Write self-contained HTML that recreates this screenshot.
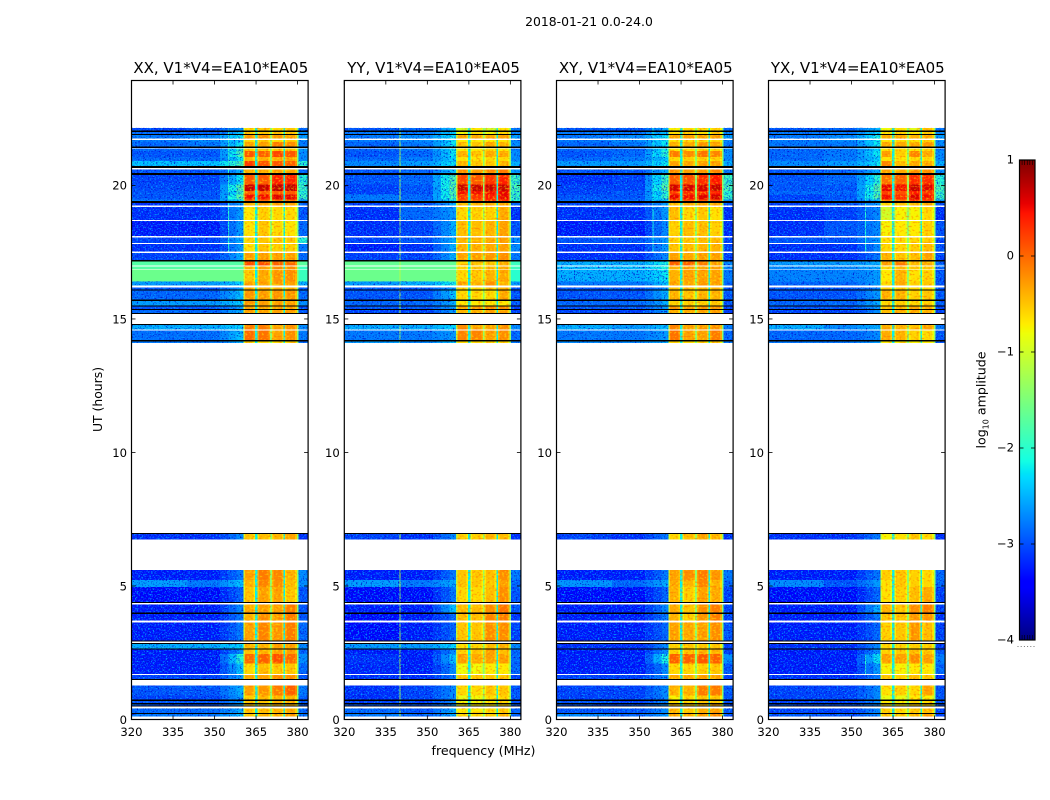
<!DOCTYPE html>
<html lang="en">
<head>
<meta charset="utf-8">
<title>2018-01-21 0.0-24.0</title>
<style>
html,body{margin:0;padding:0;background:#fff;}
svg{display:block;font-family:"DejaVu Sans","Liberation Sans",sans-serif;fill:#000;}
</style>
</head>
<body>
<svg id="figure" xmlns="http://www.w3.org/2000/svg" width="1050" height="800" viewBox="0 0 1050 800">
<defs>
<filter id="speckle" filterUnits="userSpaceOnUse" x="0" y="0" width="1050" height="800" color-interpolation-filters="sRGB">
<feTurbulence type="fractalNoise" baseFrequency="0.62 0.7" numOctaves="2" seed="7" result="n"/>
<feColorMatrix in="n" type="matrix" values="0 0 0 0 0  0 0 0 0 0.6  0 0 0 0 1  6 0 0 0 -3.2" result="light"/>
<feColorMatrix in="n" type="matrix" values="0 0 0 0 0  0 0 0 0 0.05  0 0 0 0 0.8  0 -5 0 0 2.3" result="dark"/>
<feMerge result="m"><feMergeNode in="dark"/><feMergeNode in="light"/></feMerge>
<feComposite in="m" in2="SourceAlpha" operator="in"/>
</filter>
<filter id="ripple" filterUnits="userSpaceOnUse" x="0" y="0" width="1050" height="800" color-interpolation-filters="sRGB">
<feTurbulence type="fractalNoise" baseFrequency="0.42 0.5" numOctaves="1" seed="11" result="n"/>
<feColorMatrix in="n" type="matrix" values="0 0 0 0 1  0 0 0 0 0.42  0 0 0 0 0  5 0 0 0 -2.6" result="warm"/>
<feColorMatrix in="n" type="matrix" values="0 0 0 0 1  0 0 0 0 0.95  0 0 0 0 0  0 5 0 0 -2.7" result="pale"/>
<feMerge result="m"><feMergeNode in="warm"/><feMergeNode in="pale"/></feMerge>
<feComposite in="m" in2="SourceAlpha" operator="in"/>
</filter>
</defs>
<text x="589" y="26" font-size="12.4" text-anchor="middle">2018-01-21 0.0-24.0</text>
<text x="483.5" y="755" font-size="12.6" text-anchor="middle">frequency (MHz)</text>
<text x="0" y="0" font-size="12.4" text-anchor="middle" transform="translate(102,399.5) rotate(-90)">UT (hours)</text>
<text x="0" y="0" font-size="12.6" text-anchor="middle" transform="translate(985.5,400) rotate(-90)">log<tspan font-size="8" dy="3">10</tspan><tspan dy="-3"> amplitude</tspan></text>
</svg>
<script>
var panelTitles = ["XX, V1*V4=EA10*EA05", "YY, V1*V4=EA10*EA05", "XY, V1*V4=EA10*EA05", "YX, V1*V4=EA10*EA05"];
var xTicks = [320, 335, 350, 365, 380];
var yTicks = [0, 5, 10, 15, 20];
var colorbarTicks = [1, 0, -1, -2, -3, -4];
var colorbarRange = [-4, 1];
var frequencyRange = [320, 383.8];
var hourRange = [0, 23.93];

// UT limits (hours) of each recorded band; columns of the grids below follow this order
var rowTop = [22.16,22.00,21.89,21.70,21.62,21.38,21.29,21.06,20.91,20.60,20.40,20.04,19.79,19.66,19.47,19.35,19.20,18.66,18.05,17.80,17.47,17.16,16.97,16.85,16.41,16.18,16.06,15.68,15.46,15.33,14.78,14.56,14.15,6.97,5.59,5.22,4.96,4.31,3.96,3.64,2.82,2.62,2.46,2.09,1.67,1.27,0.90,0.69,0.57,0.42,0.21];
var rowBottom = [22.05,21.93,21.75,21.62,21.45,21.29,21.06,20.91,20.72,20.47,20.04,19.79,19.66,19.47,19.42,19.25,18.70,18.10,17.85,17.52,17.21,17.01,16.88,16.41,16.26,16.10,15.72,15.50,15.37,15.22,14.60,14.22,14.10,6.74,5.22,4.96,4.40,4.00,3.70,2.96,2.65,2.46,2.09,1.71,1.51,0.90,0.74,0.61,0.52,0.25,0.11];

// flagged (black) time ranges: [top, bottom]
var flaggedHours = [[22.05,22.00],[21.93,21.89],[21.45,21.40],[20.72,20.65],[20.47,20.40],[19.42,19.35],[17.21,17.16],[16.10,16.06],[15.72,15.68],[15.50,15.46],[15.37,15.33],[15.22,15.19],[14.82,14.78],[14.22,14.15],[6.99,6.96],[4.40,4.36],[4.00,3.96],[2.96,2.92],[2.86,2.82],[2.65,2.62],[1.51,1.47],[0.74,0.70],[0.61,0.57],[0.52,0.49],[0.25,0.21]];

// channel groups (MHz): background, ramp, four RFI sub-bands, tail
var bandEdges = [320, 340, 352, 360.4, 364.7, 365.6, 370.1, 370.7, 374.9, 375.5, 379.7, 383.8];

// log10 amplitude per row: [bgLeft, bgRight, ramp, sub1, sub2, sub3, sub4, tail]
var xxLevels = [
[-2.8,-2.7,-2.6,-.6,-.5,-.6,-.5,-2.6],[-2.6,-2.6,-2.4,-.5,-.5,-.5,-.5,-2.4],[-2.5,-2.4,-2.2,-.25,-.2,-.25,-.3,-2.3],[-2.5,-2.4,-2.3,-.6,-.5,-.6,-.5,-2.4],[-2.6,-2.5,-2.2,-.35,-.3,-.1,-.2,-2.5],
[-2.6,-2.6,-2.0,-.55,-.5,-.5,-.5,-2.3],[-2.7,-2.7,-1.8,.1,.05,.2,.1,-2.4],[-2.6,-2.6,-2.2,-.4,-.4,-.35,-.3,-2.4],[-2.1,-2.1,-1.8,.25,.1,.1,.05,-2.0],[-2.7,-2.7,-2.5,-.4,-.4,-.3,-.3,-2.6],
[-2.8,-2.8,-2.2,.1,.1,.4,.4,-2.0],[-2.75,-2.75,-1.7,.7,.7,.75,.75,-1.9],[-2.7,-2.7,-1.9,.05,.1,.1,.1,-2.0],[-2.7,-2.7,-1.7,.5,.5,.6,.6,-1.9],[-2.5,-2.5,-2.3,0,0,0,0,-2.4],
[-2.9,-2.9,-2.6,-.4,-.3,-.3,-.3,-2.6],[-2.9,-2.9,-2.6,-.7,-.55,-.6,-.6,-2.7],[-3,-3,-2.6,-.65,-.5,-.6,-.65,-2.6],[-2.8,-2.8,-2.5,-.6,-.5,-.5,-.5,-2.0],[-2.9,-2.9,-2.6,-.65,-.5,-.55,-.55,-2.5],
[-2.8,-2.8,-2.5,-.3,-.3,-.3,-.3,-2.6],[-1.75,-1.75,-1.75,.15,.15,.05,0,-1.7],[-1.75,-1.75,-1.75,-.4,-.3,-.2,-.2,-1.9],[-1.6,-1.6,-1.6,-.5,-.35,-.25,-.2,-1.9],[-2.3,-2.3,-2.3,-.3,-.3,-.3,-.3,-2.2],
[-2.7,-2.7,-2.6,-.4,-.4,-.4,-.4,-2.7],[-2.6,-2.6,-2.4,-.25,-.3,-.25,-.25,-2.6],[-2.3,-2.3,-2.3,-.25,-.3,-.3,-.3,-2.4],[-2.7,-2.7,-2.6,-.3,-.3,-.3,-.3,-2.7],[-2.6,-2.6,-2.5,-.3,-.3,-.3,-.3,-2.7],
[-2.2,-2.2,-2.3,-.1,-.1,-.3,-.2,-2.4],[-2.55,-2.55,-2.4,0,-.05,-.3,-.2,-2.5],[-2.5,-2.5,-2.5,-.6,-.6,-.6,-.6,-2.6],[-2.9,-2.9,-2.7,-.5,-.45,-.4,-.3,-2.9],[-3,-3,-2.8,-.3,-.1,-.15,-.4,-2.4],
[-2.3,-2.5,-2.4,-.4,-.15,-.2,-.45,-2.4],[-3.1,-3.1,-2.9,-.5,-.3,-.3,-.5,-2.7],[-3,-3,-2.7,-.35,-.3,-.3,-.1,-2.7],[-3,-3,-2.8,-.4,-.2,-.3,-.1,-2.7],[-3,-3,-2.8,-.3,-.15,-.25,-.1,-2.6],
[-2.2,-2.2,-2.3,-.4,-.4,-.3,-.3,-2.4],[-3,-3,-2.7,-.5,-.4,-.3,-.3,-2.6],[-3,-3,-2,0,.05,.15,0,-2.4],[-3,-3,-2.4,-.6,-.45,-.5,-.5,-2.6],[-2.8,-2.8,-2.6,-.35,-.3,-.2,-.2,-2.7],
[-2.7,-2.7,-2.5,-.3,-.25,-.1,.05,-2.5],[-2.8,-2.8,-2.6,-.55,-.45,-.4,-.4,-2.7],[-2.7,-2.7,-2.6,-.5,-.5,-.4,-.4,-2.7],[-2.7,-2.7,-2.6,-.5,-.5,-.4,-.4,-2.7],[-2.6,-2.6,-2.5,-.5,-.45,-.4,-.35,-2.6],[-2.5,-2.5,-2.4,-.5,-.4,-.4,-.3,-2.5]
];
var yyLevels = [
[-2.7,-2.6,-2.4,-1,-.7,-1,-.65,-2.5],[-2.5,-2.5,-2.3,-.8,-.65,-.8,-.6,-2.4],[-2.5,-2.4,-2.2,-.35,-.35,-.35,-.3,-2.3],[-2.5,-2.4,-2.2,-.7,-.7,-.7,-.65,-2.4],[-2.6,-2.5,-2.2,-.5,-.5,-.35,-.4,-2.4],
[-2.6,-2.5,-2.2,-.7,-.7,-.6,-.7,-2.5],[-2.7,-2.6,-2.2,-.4,-.5,-.35,-.35,-2.4],[-2.6,-2.5,-2.3,-.65,-.65,-.6,-.6,-2.4],[-2.4,-2.3,-2.2,-.4,-.5,-.5,-.4,-2.2],[-2.7,-2.6,-2.4,-.2,-.3,-.2,-.1,-2.3],
[-2.7,-2.6,-1.8,.2,.1,.3,.4,-1.9],[-2.8,-2.7,-1.7,.7,.7,.7,.7,-1.8],[-2.8,-2.7,-1.8,.5,.5,.5,.55,-1.9],[-2.5,-2.6,-1.8,.3,.3,.45,.55,-1.9],[-2.5,-2.5,-2.2,.1,.1,.35,.35,-2],
[-2.8,-2.7,-2.5,-.5,-.4,-.4,-.35,-2.6],[-2.9,-2.6,-2.6,-.6,-.55,-.55,-.35,-2.9],[-2.9,-2.8,-2.5,-.45,-.45,-.4,-.3,-2.7],[-2.8,-2.7,-2.5,-.4,-.4,-.35,-.3,-2.4],[-3,-2.9,-2.5,-.4,-.4,-.35,-.3,-2.4],
[-2.8,-2.8,-2.5,-.3,-.3,-.25,-.2,-2.5],[-1.65,-1.65,-1.65,-.6,-.5,-.5,-.35,-1.9],[-1.65,-1.65,-1.65,-.55,-.5,-.45,-.35,-1.9],[-1.6,-1.6,-1.6,-.6,-.5,-.4,-.35,-2],[-2.3,-2.2,-2.1,-.3,-.4,-.2,-.4,-2.3],
[-2.7,-2.7,-2.6,-.6,-.6,-.5,-.4,-2.7],[-2.7,-2.7,-2.4,-.6,-.6,-.6,-.35,-2.7],[-2.6,-2.6,-2.5,-.7,-.7,-.7,-.7,-2.7],[-2.7,-2.7,-2.6,-.3,-.3,-.2,-.2,-2.8],[-2.8,-2.8,-2.6,-.4,-.4,-.3,-.3,-2.8],
[-2.2,-2.2,-2.3,-.2,-.3,-.3,-.2,-2.4],[-2.5,-2.5,-2.6,-.15,-.15,-.3,-.2,-2.6],[-2.3,-2.4,-2.4,-.6,-.6,-.6,-.6,-2.5],[-2.8,-2.9,-2.7,-.55,-.55,-.4,-.45,-2.9],[-3,-3,-2.8,-.5,-.5,-.45,-.2,-2.5],
[-2.3,-2.5,-2.5,-.5,-.5,-.5,-.3,-2.6],[-3.1,-3.1,-2.8,-.6,-.6,-.45,-.2,-2.7],[-3,-3,-2.4,-.45,-.45,-.2,-.05,-2.7],[-3.1,-3,-2.9,-.45,-.45,-.15,-.1,-2.9],[-3.1,-3,-2.9,-.5,-.5,-.2,-.2,-2.8],
[-2.3,-2.3,-2.3,-.65,-.6,-.45,-.4,-2.4],[-3,-3,-2.7,-.55,-.5,-.3,-.45,-2.6],[-2.9,-3,-2.4,-.3,-.35,-.3,-.3,-2.6],[-2.95,-3,-2.7,-.8,-.8,-.7,-.7,-2.6],[-2.9,-2.9,-2.8,-.5,-.5,-.5,-.5,-2.8],
[-2.9,-2.8,-2.7,-.6,-.6,-.5,-.5,-2.7],[-2.9,-2.8,-2.7,-.85,-.8,-.65,-.6,-2.7],[-2.8,-2.8,-2.7,-.8,-.8,-.7,-.6,-2.7],[-2.7,-2.7,-2.6,-.75,-.75,-.7,-.55,-2.7],[-2.6,-2.7,-2.5,-.7,-.7,-.6,-.5,-2.6],[-2.5,-2.6,-2.5,-.6,-.6,-.55,-.4,-2.6]
];
var xyLevels = [
[-2.7,-2.7,-2.5,-.75,-.6,-.65,-.55,-2.6],[-2.5,-2.5,-2.4,-.6,-.55,-.6,-.5,-2.4],[-2.5,-2.4,-2.2,-.3,-.3,-.3,-.3,-2.3],[-2.5,-2.4,-2.2,-.65,-.6,-.6,-.55,-2.4],[-2.6,-2.5,-2.2,-.4,-.35,-.25,-.3,-2.5],
[-2.6,-2.6,-2.1,-.7,-.65,-.6,-.6,-2.4],[-2.7,-2.6,-2,-.1,-.2,-.05,-.15,-2.4],[-2.6,-2.5,-2.3,-.6,-.55,-.55,-.55,-2.4],[-2.3,-2.3,-2.2,-.3,-.35,-.3,-.3,-2.2],[-2.7,-2.7,-2.5,-.2,-.3,-.25,-.15,-2.5],
[-2.9,-2.8,-1.9,.1,.15,.35,.45,-1.9],[-2.8,-2.8,-1.7,.65,.65,.65,.7,-1.8],[-2.8,-2.7,-2,.3,.35,.4,.45,-2],[-2.7,-2.7,-1.9,.55,.5,.6,.65,-1.9],[-2.6,-2.6,-2.3,.1,.1,.1,.1,-2.4],
[-2.8,-2.8,-2.6,-.45,-.35,-.35,-.35,-2.7],[-2.9,-2.9,-2.6,-.45,-.6,-.5,-.65,-2.9],[-3,-3,-2.7,-.55,-.45,-.45,-.55,-2.9],[-2.7,-2.7,-2.6,-.55,-.5,-.45,-.45,-2.8],[-2.9,-2.9,-2.6,-.5,-.45,-.4,-.4,-2.8],
[-2.9,-2.9,-2.7,-.3,-.35,-.3,-.3,-2.8],[-2.2,-2.2,-2.1,.05,.05,-.1,-.3,-2.4],[-2.1,-2.1,-2.1,-.4,-.3,-.35,-.3,-2.4],[-2.2,-2.2,-2.2,-.4,-.3,-.3,-.3,-2.5],[-2.5,-2.5,-2.4,-.3,-.35,-.25,-.3,-2.6],
[-2.7,-2.7,-2.7,-.5,-.45,-.4,-.4,-2.7],[-2.7,-2.7,-2.5,-.4,-.5,-.4,-.4,-2.7],[-2.6,-2.6,-2.5,-.55,-.55,-.55,-.5,-2.7],[-2.7,-2.7,-2.6,-.25,-.3,-.25,-.25,-2.8],[-2.8,-2.8,-2.6,-.4,-.35,-.3,-.3,-2.8],
[-2.2,-2.3,-2.4,-.15,-.3,-.3,-.2,-2.5],[-2.5,-2.5,-2.6,-.05,-.3,-.3,-.1,-2.6],[-2.4,-2.4,-2.5,-.55,-.6,-.6,-.55,-2.5],[-2.8,-2.9,-2.8,-.6,-.45,-.3,-.4,-2.9],[-3,-3,-2.8,-.3,-.2,-.1,-.25,-2.5],
[-2.35,-2.6,-2.5,-.35,-.4,-.15,-.4,-2.6],[-3.1,-3.1,-2.9,-.4,-.55,-.3,-.35,-2.8],[-3,-3,-2.7,-.35,-.5,-.2,-.1,-2.8],[-3,-3,-2.8,-.4,-.55,-.25,-.1,-2.8],[-3,-3,-2.9,-.3,-.35,-.3,-.2,-2.7],
[-2.9,-2.9,-2.7,-.55,-.5,-.5,-.5,-2.8],[-3,-3,-2.7,-.55,-.5,-.4,-.4,-2.8],[-3,-3,-2.1,.05,.05,.1,.05,-2.4],[-3,-3,-2.7,-.6,-.6,-.55,-.5,-2.7],[-2.8,-2.8,-2.7,-.35,-.35,-.3,-.3,-2.8],
[-2.8,-2.8,-2.7,-.4,-.4,-.1,-.1,-2.7],[-2.8,-2.8,-2.7,-.75,-.6,-.5,-.5,-2.7],[-2.7,-2.8,-2.7,-.6,-.6,-.5,-.5,-2.7],[-2.7,-2.7,-2.7,-.5,-.5,-.4,-.4,-2.7],[-2.7,-2.7,-2.7,-.4,-.5,-.35,-.3,-2.7],[-2.4,-2.6,-2.6,-.35,-.4,-.3,-.15,-2.7]
];
var yxLevels = [
[-2.7,-2.6,-2.4,-.8,-.65,-.9,-.45,-2.5],[-2.5,-2.5,-2.3,-.7,-.6,-.7,-.5,-2.4],[-2.5,-2.4,-2.1,-.35,-.35,-.4,-.35,-2.3],[-2.5,-2.4,-2.2,-.65,-.6,-.65,-.55,-2.4],[-2.5,-2.5,-2.2,-.35,-.35,-.35,-.25,-2.4],
[-2.6,-2.5,-2.3,-.65,-.6,-.65,-.6,-2.5],[-2.6,-2.5,-2.2,-.3,-.55,-.15,-.35,-2.4],[-2.6,-2.5,-2.3,-.65,-.65,-.6,-.6,-2.4],[-2.4,-2.3,-2.2,-.15,-.45,-.35,-.35,-2.2],[-2.7,-2.6,-2.5,-.3,-.35,-.2,-.2,-2.4],
[-2.7,-2.6,-2,-.05,.05,.35,.35,-2],[-2.7,-2.7,-1.7,.55,.5,.7,.6,-1.8],[-2.6,-2.6,-1.9,.25,.15,.45,.3,-1.9],[-2.8,-2.7,-1.7,.5,.35,.6,.5,-1.9],[-2.7,-2.6,-2.4,-.1,-.1,.35,.2,-2.3],
[-2.8,-2.7,-2.6,-.6,-.5,-.45,-.4,-2.7],[-2.9,-2.8,-2.7,-1,-.75,-.75,-.6,-2.9],[-2.9,-2.7,-2.7,-.75,-.7,-.7,-.55,-2.7],[-2.7,-2.7,-2.6,-.65,-.6,-.6,-.55,-2.8],[-2.9,-2.9,-2.7,-.6,-.6,-.55,-.45,-2.7],
[-2.9,-2.9,-2.8,-.4,-.5,-.45,-.3,-2.8],[-2.3,-2.3,-2.5,-.3,-.1,-.45,-.35,-2.6],[-2.4,-2.4,-2.5,-.6,-.45,-.5,-.5,-2.6],[-2.45,-2.45,-2.6,-.7,-.4,-.65,-.55,-2.7],[-2.6,-2.6,-2.6,-.6,-.35,-.55,-.5,-2.7],
[-2.7,-2.7,-2.7,-.55,-.55,-.6,-.6,-2.7],[-2.7,-2.7,-2.6,-.4,-.4,-.55,-.5,-2.7],[-2.6,-2.6,-2.5,-.6,-.55,-.6,-.55,-2.7],[-2.7,-2.7,-2.6,-.45,-.4,-.35,-.4,-2.8],[-2.8,-2.8,-2.7,-.45,-.4,-.35,-.4,-2.8],
[-2.2,-2.4,-2.5,-.35,-.4,-.45,-.3,-2.5],[-2.6,-2.6,-2.7,-.35,-.4,-.55,-.6,-2.7],[-2.5,-2.5,-2.6,-.7,-.75,-.75,-.7,-2.7],[-2.9,-2.9,-2.8,-.75,-.65,-.5,-.6,-2.9],[-3,-3,-2.8,-.55,-.5,-.55,-.6,-2.6],
[-2.4,-2.7,-2.6,-.65,-.5,-.55,-.6,-2.6],[-3.1,-3.1,-2.9,-.65,-.55,-.45,-.35,-2.8],[-3,-3,-2.5,-.4,-.5,-.2,-.1,-2.8],[-3,-3,-2.8,-.5,-.5,-.25,-.25,-2.9],[-3,-3,-2.9,-.55,-.5,-.25,-.45,-2.8],
[-2.9,-2.9,-2.7,-.6,-.6,-.55,-.55,-2.8],[-3,-3,-2.7,-.55,-.55,-.45,-.5,-2.7],[-3,-3,-2.2,-.3,-.3,-.2,-.3,-2.5],[-3,-3,-2.6,-.75,-.75,-.7,-.7,-2.6],[-2.9,-2.9,-2.8,-.5,-.55,-.45,-.5,-2.9],
[-2.8,-2.8,-2.7,-.65,-.55,-.6,-.3,-2.7],[-2.8,-2.8,-2.7,-.85,-.85,-.7,-.75,-2.7],[-2.8,-2.8,-2.7,-.7,-.75,-.6,-.6,-2.7],[-2.7,-2.7,-2.7,-.6,-.7,-.55,-.55,-2.7],[-2.8,-2.8,-2.7,-.55,-.6,-.5,-.45,-2.8],[-2.7,-2.7,-2.7,-.5,-.55,-.45,-.3,-2.8]
];

// narrow interference channels: [MHz, hour from, hour to, log10 amplitude]
var xxChannels = [[354.9,17.5,22.2,-2.0]];
var yyChannels = [[339.9,14,22.2,-1.2],[339.9,0,7,-1.2]];
var xyChannels = [[354.6,17.5,22.2,-2.1]];
var yxChannels = [[354.9,17.5,20,-2.0],[354.9,1.6,2.6,-2.0]];

// gap channels between RFI sub-bands
var gapCoreLevel = [-2.2, -2.2, -2.2, -2.2];
// faint rows sit lower than the smoothed levels once the speckle is laid over them
var backgroundCalibration = -0.28;

var panelLevels = [xxLevels, yyLevels, xyLevels, yxLevels];
var panelChannels = [xxChannels, yyChannels, xyChannels, yxChannels];
var panelLeft = [131.5, 344.3, 556.5, 768.5];
var panelNames = ['xx', 'yy', 'xy', 'yx'];
var panelWidth = 176.6, plotTop = 80.5, plotBottom = 719.5;
var NS = 'http://www.w3.org/2000/svg';
var svg = document.getElementById('figure');

function jetChannel(t, pts) {
  for (var i = 1; i < pts.length; i++) {
    if (t <= pts[i][0]) {
      var a = pts[i - 1], b = pts[i];
      return a[1] + (b[1] - a[1]) * (t - a[0]) / (b[0] - a[0]);
    }
  }
  return pts[pts.length - 1][1];
}
function jet(v) {
  var t = Math.max(0, Math.min(1, (v - colorbarRange[0]) / (colorbarRange[1] - colorbarRange[0])));
  var r = jetChannel(t, [[0, 0], [.35, 0], [.66, 1], [.89, 1], [1, .5]]);
  var g = jetChannel(t, [[0, 0], [.125, 0], [.375, 1], [.64, 1], [.91, 0], [1, 0]]);
  var b = jetChannel(t, [[0, .5], [.11, 1], [.34, 1], [.65, 0], [1, 0]]);
  return 'rgb(' + Math.round(r * 255) + ',' + Math.round(g * 255) + ',' + Math.round(b * 255) + ')';
}
function faint(v) {
  return v < -2 ? v + backgroundCalibration : v;
}
function yScale(h) {
  return plotBottom - (h - hourRange[0]) / (hourRange[1] - hourRange[0]) * (plotBottom - plotTop);
}
function xScale(f, left) {
  return left + (f - frequencyRange[0]) / (frequencyRange[1] - frequencyRange[0]) * panelWidth;
}
function make(tag, parent, attrs) {
  var el = document.createElementNS(NS, tag);
  for (var k in attrs) el.setAttribute(k, attrs[k]);
  parent.appendChild(el);
  return el;
}
function cell(parent, left, f0, f1, top, bottom, value) {
  var x0 = xScale(f0, left), x1 = xScale(f1, left);
  var el = make('rect', parent, {x: x0, y: yScale(top), width: x1 - x0, height: Math.max(1, yScale(bottom) - yScale(top)), fill: jet(value), 'shape-rendering': 'crispEdges'});
  
  
  return el;
}
function subBand(parent, left, f0, f1, top, bottom, value) {
  cell(parent, left, f0, f1, top, bottom, value);
  cell(parent, left, f0, f0 + 0.55, top, bottom, value - 0.22);
  cell(parent, left, f1 - 0.55, f1, top, bottom, value - 0.22);
}

panelTitles.forEach(function (title, p) {
  var left = panelLeft[p], levels = panelLevels[p];
  var g = make('g', svg, {});
  
  

  var heat = make('g', g, {});
  
  

  var speck = make('g', g, {filter: 'url(#speckle)', opacity: '0.9'});
  
  

  var ripple = make('g', g, {filter: 'url(#ripple)', opacity: '0.5'});
  
  

  levels.forEach(function (row, i) {
    var top = rowTop[i], bot = rowBottom[i], e = bandEdges;
    var bgL = faint(row[0]), bgR = faint(row[1]), ramp = row[2], tail = faint(row[7]);
    cell(heat, left, e[0], e[1], top, bot, bgL);
    cell(heat, left, e[1], e[2], top, bot, bgR);
    cell(heat, left, e[2], 355, top, bot, bgR + (ramp - bgR) / 3);
    cell(heat, left, 355, 358, top, bot, bgR + (ramp - bgR) * 2 / 3);
    cell(heat, left, 358, e[3], top, bot, ramp);
    // RFI sub-bands with their gap channels
    subBand(heat, left, e[3], e[4], top, bot, row[3]);
    cell(heat, left, e[3], 360.9, top, bot, Math.min(row[3], -1.1));
    cell(heat, left, e[4], e[5], top, bot, gapCoreLevel[p]);
    subBand(heat, left, e[5], e[6], top, bot, row[4]);
    cell(heat, left, e[6], e[7], top, bot, gapCoreLevel[p] + 0.8);
    subBand(heat, left, e[7], e[8], top, bot, row[5]);
    cell(heat, left, e[8], e[9], top, bot, gapCoreLevel[p]);
    subBand(heat, left, e[9], e[10], top, bot, row[6]);
    cell(heat, left, e[10], 380.3, top, bot, -1.4);
    cell(heat, left, 380.3, e[11], top, bot, tail);

    panelChannels[p].forEach(function (ch) {
      if (ch[1] < bot && ch[2] > top) {
        cell(heat, left, ch[0], ch[0] + 0.36, top, bot, ch[3]);
      }
    });

    if (row[0] < -1.9) {
      [[e[0], e[3]], [380.3, e[11]]].forEach(function (span) {
        var x0 = xScale(span[0], left), x1 = xScale(span[1], left);
        var n = make('rect', speck, {x: x0, y: yScale(top), width: x1 - x0, height: yScale(bot) - yScale(top), fill: '#000'});
        
        
      });
    }
    var rx0 = xScale(e[3], left), rx1 = xScale(e[10], left);
    var rp = make('rect', ripple, {x: rx0, y: yScale(top), width: rx1 - rx0, height: yScale(bot) - yScale(top), fill: '#000'});
    
    
  });

  flaggedHours.forEach(function (f) {
    var y0 = yScale(f[0]), y1 = yScale(f[1]);
    var r = make('rect', g, {x: left, y: y0, width: panelWidth, height: Math.max(1, y1 - y0), fill: '#000', 'shape-rendering': 'crispEdges'});
    
    
  });

  var frame = make('rect', g, {x: left, y: plotTop, width: panelWidth, height: plotBottom - plotTop, fill: 'none', stroke: '#000', 'stroke-width': 1.2});
  
  

  xTicks.forEach(function (t) {
    var x = xScale(t, left);
    var a = make('line', g, {x1: x, x2: x, y1: plotBottom, y2: plotBottom - 4, stroke: '#000', 'stroke-width': 0.8});
    
    
    var b = make('line', g, {x1: x, x2: x, y1: plotTop, y2: plotTop + 4, stroke: '#000', 'stroke-width': 0.8});
    
    
    var tx = make('text', g, {x: x, y: 736, 'font-size': 11.6, 'text-anchor': 'middle'});
    
    
    tx.textContent = String(t);
  });
  yTicks.forEach(function (t) {
    var y = yScale(t);
    var a = make('line', g, {x1: left, x2: left + 4, y1: y, y2: y, stroke: '#000', 'stroke-width': 0.8});
    
    
    var b = make('line', g, {x1: left + panelWidth, x2: left + panelWidth - 4, y1: y, y2: y, stroke: '#000', 'stroke-width': 0.8});
    
    
    var tx = make('text', g, {x: left - 4.5, y: y + 4.3, 'font-size': 11.6, 'text-anchor': 'end'});
    
    
    tx.textContent = String(t);
  });

  var tt = make('text', g, {x: left + panelWidth / 2 + 1, y: 73, 'font-size': 15, 'text-anchor': 'middle'});
  
  
  tt.textContent = title;
});

// colorbar
var cbLeft = 1019.5, cbWidth = 15.5, cbTop = 160, cbBottom = 640;
function cbY(v) {
  return cbBottom - (v - colorbarRange[0]) / (colorbarRange[1] - colorbarRange[0]) * (cbBottom - cbTop);
}
var cb = make('g', svg, {});


for (var s = 0; s < 240; s++) {
  var vLow = colorbarRange[0] + (colorbarRange[1] - colorbarRange[0]) * s / 240;
  var vHigh = colorbarRange[0] + (colorbarRange[1] - colorbarRange[0]) * (s + 1) / 240;
  var strip = make('rect', cb, {x: cbLeft, y: cbY(vHigh), width: cbWidth, height: cbY(vLow) - cbY(vHigh) + 0.5, fill: jet((vLow + vHigh) / 2), 'shape-rendering': 'crispEdges'});
  
  
}
var cbFrame = make('rect', cb, {x: cbLeft, y: cbTop, width: cbWidth, height: cbBottom - cbTop, fill: 'none', stroke: '#000', 'stroke-width': 1.2});


colorbarTicks.forEach(function (t) {
  var y = cbY(t);
  var l = make('line', cb, {x1: cbLeft, x2: cbLeft + 4, y1: y, y2: y, stroke: '#000', 'stroke-width': 0.8});
  
  
  var r = make('line', cb, {x1: cbLeft + cbWidth, x2: cbLeft + cbWidth - 4, y1: y, y2: y, stroke: '#000', 'stroke-width': 0.8});
  
  
  var tx = make('text', cb, {x: cbLeft - 5.5, y: y + 3.6, 'font-size': 11.6, 'text-anchor': 'end'});
  
  
  tx.textContent = t < 0 ? '\u2212' + Math.abs(t) : String(t);
});
[cbTop, cbBottom].forEach(function (edge) {
  for (var m = 1; m <= 5; m++) {
    var mx = cbLeft + m * cbWidth / 6;
    var tick = make('line', cb, {x1: mx, x2: mx, y1: edge, y2: edge === cbTop ? edge + 5 : edge - 5, stroke: '#000', 'stroke-width': 0.6});
    
    
  }
});
for (var d = 0; d < 6; d++) {
  var dot = make('rect', cb, {x: 1017.5 + d * 3.2, y: 646, width: 1, height: 1, fill: '#777'});
  
  
}
</script>
</body>
</html>
